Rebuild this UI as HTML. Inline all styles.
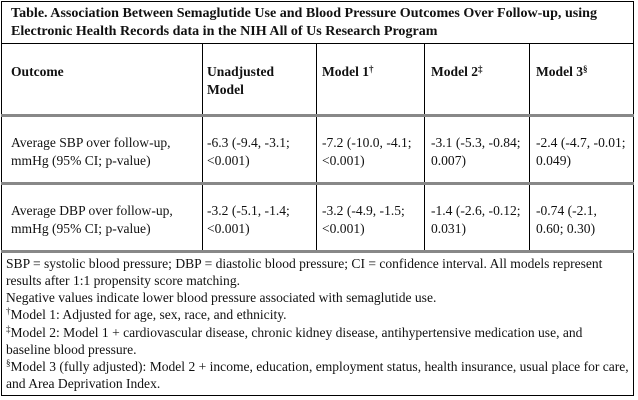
<!DOCTYPE html>
<html><head><meta charset="utf-8"><style>
body{margin:0;width:638px;height:400px;background:#fff;position:relative;overflow:hidden;font-family:"Liberation Serif",serif;font-size:13.55px;color:#111}
.t{position:absolute;white-space:nowrap;line-height:18px}
.b{font-weight:bold}
.h{position:absolute;background:#000}
.g{position:absolute;background:#888;height:3px}
sup{font-size:9px;vertical-align:top;position:relative;top:-3px}
</style></head><body>
<div class="h" style="left:1px;top:1px;width:633px;height:1px"></div>
<div class="h" style="left:1px;top:1px;width:1px;height:395px"></div>
<div class="h" style="left:633px;top:1px;width:1px;height:395px"></div>
<div class="h" style="left:1px;top:395px;width:633px;height:1px"></div>
<div class="h" style="left:1px;top:43px;width:633px;height:1px"></div>
<div class="h" style="left:202px;top:43px;width:1px;height:209px"></div>
<div class="h" style="left:316px;top:43px;width:1px;height:209px"></div>
<div class="h" style="left:424px;top:43px;width:1px;height:209px"></div>
<div class="h" style="left:529px;top:43px;width:1px;height:209px"></div>
<div class="g" style="left:1px;top:114px;width:633px"></div>
<div class="g" style="left:1px;top:182px;width:633px"></div>
<div class="g" style="left:1px;top:250px;width:633px"></div>

<div class="t b" style="left:11px;top:4px;font-size:14.05px">Table. Association Between Semaglutide Use and Blood Pressure Outcomes Over Follow-up, using</div>
<div class="t b" style="left:11px;top:22px;font-size:14.05px">Electronic Health Records data in the NIH All of Us Research Program</div>

<div class="t b" style="left:11px;top:63px">Outcome</div>
<div class="t b" style="left:207px;top:63px">Unadjusted<br>Model</div>
<div class="t b" style="left:322px;top:63px">Model 1<sup>†</sup></div>
<div class="t b" style="left:431px;top:63px">Model 2<sup>‡</sup></div>
<div class="t b" style="left:536px;top:63px">Model 3<sup>§</sup></div>

<div class="t" style="left:11px;top:134px">Average SBP over follow-up,<br>mmHg (95% CI; p-value)</div>
<div class="t" style="left:207px;top:134px">-6.3 (-9.4, -3.1;<br>&lt;0.001)</div>
<div class="t" style="left:322px;top:134px">-7.2 (-10.0, -4.1;<br>&lt;0.001)</div>
<div class="t" style="left:431px;top:134px">-3.1 (-5.3, -0.84;<br>0.007)</div>
<div class="t" style="left:536px;top:134px">-2.4 (-4.7, -0.01;<br>0.049)</div>

<div class="t" style="left:11px;top:202px">Average DBP over follow-up,<br>mmHg (95% CI; p-value)</div>
<div class="t" style="left:207px;top:202px">-3.2 (-5.1, -1.4;<br>&lt;0.001)</div>
<div class="t" style="left:322px;top:202px">-3.2 (-4.9, -1.5;<br>&lt;0.001)</div>
<div class="t" style="left:431px;top:202px">-1.4 (-2.6, -0.12;<br>0.031)</div>
<div class="t" style="left:536px;top:202px">-0.74 (-2.1,<br>0.60; 0.30)</div>

<div class="t" style="left:6px;top:255px;line-height:17px">SBP = systolic blood pressure; DBP = diastolic blood pressure; CI = confidence interval. All models represent<br>results after 1:1 propensity score matching.</div>
<div class="t" style="left:6px;top:289px;line-height:17px">Negative values indicate lower blood pressure associated with semaglutide use.</div>
<div class="t" style="left:6px;top:306px;line-height:17px"><sup>†</sup>Model 1: Adjusted for age, sex, race, and ethnicity.</div>
<div class="t" style="left:6px;top:324px;line-height:17px"><sup>‡</sup>Model 2: Model 1 + cardiovascular disease, chronic kidney disease, antihypertensive medication use, and<br>baseline blood pressure.</div>
<div class="t" style="left:6px;top:358px;line-height:17px"><sup>§</sup>Model 3 (fully adjusted): Model 2 + income, education, employment status, health insurance, usual place for care,<br>and Area Deprivation Index.</div>
</body></html>
